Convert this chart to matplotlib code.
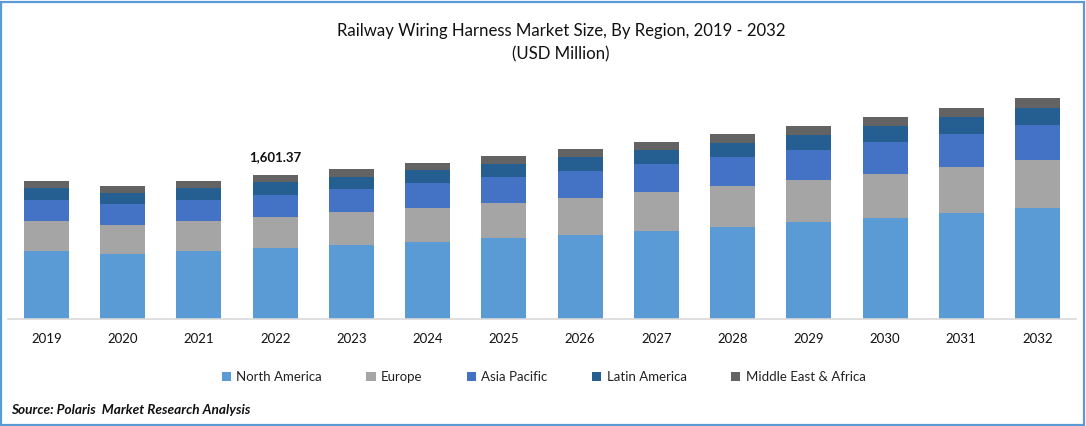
import matplotlib
matplotlib.use('Agg')
import matplotlib.pyplot as plt
import numpy as np
from matplotlib.patches import Rectangle

years = ['2019', '2020', '2021', '2022', '2023', '2024', '2025',
         '2026', '2027', '2028', '2029', '2030', '2031', '2032']

# USD million (2022 total is the labelled 1,601.37)
north_america = [756, 727, 756, 788, 823, 856, 901, 934, 979, 1023, 1079, 1123, 1179, 1234]
europe = [334, 319, 334, 345, 367, 378, 389, 411, 434, 456, 467, 489, 512, 534]
asia_pacific = [234, 234, 234, 245, 256, 278, 289, 300, 311, 323, 334, 356, 367, 389]
latin_america = [137, 122, 137, 145, 133, 145, 145, 156, 156, 156, 167, 178, 189, 189]
mea = [74, 78, 74, 78, 89, 78, 89, 89, 89, 100, 100, 100, 100, 111]

series = [
    ('North America', north_america, '#5B9BD5'),
    ('Europe', europe, '#A5A5A5'),
    ('Asia Pacific', asia_pacific, '#4472C4'),
    ('Latin America', latin_america, '#255E91'),
    ('Middle East & Africa', mea, '#636363'),
]

W, H = 1086, 426
plt.rcParams['font.family'] = ['Lato', 'DejaVu Sans']
fig = plt.figure(figsize=(W / 100, H / 100), dpi=100)

# axes placed in pixels: baseline at y=319, x from 8 to 1076
ax = fig.add_axes([8 / W, (H - 319) / H, 1068 / W, 229 / H])

x = np.arange(len(years))
bottom = np.zeros(len(years))
for name, values, color in series:
    ax.bar(x, values, width=0.59, bottom=bottom, color=color, label=name)
    bottom += np.array(values)

ax.set_xlim(-0.505, 13.505)
ax.set_ylim(0, 2546)
ax.set_xticks(x)
ax.set_xticklabels(years, fontsize=9.5, color='#111111')
ax.tick_params(axis='x', length=0, pad=10.3)
ax.set_yticks([])
for side in ['top', 'left', 'right']:
    ax.spines[side].set_visible(False)
ax.spines['bottom'].set_color('#D9D9D9')
ax.spines['bottom'].set_linewidth(1.2)

# only 2022 carries a total label
ax.text(3, bottom[3] + 130, '1,601.37', ha='center', va='bottom',
        fontsize=9.5, fontweight='bold', color='#111111')

fig.text(561 / W, 1 - 31 / H, 'Railway Wiring Harness Market Size, By Region, 2019 - 2032',
         ha='center', va='center', fontsize=12.1, color='#111111')
fig.text(561 / W, 1 - 54 / H, '(USD Million)',
         ha='center', va='center', fontsize=12.1, color='#111111')

ax.legend(loc='center', bbox_to_anchor=(543.5 / W, 1 - 377 / H),
          bbox_transform=fig.transFigure, ncols=5, frameon=False,
          fontsize=9.5, handlelength=0.7, handleheight=0.7, handletextpad=0.4,
          columnspacing=3.37, labelcolor='#222222', borderpad=0)

fig.text(11 / W, 1 - 410 / H, 'Source: Polaris  Market Research Analysis',
         ha='left', va='center', fontsize=9.8, fontweight='bold', style='italic', color='#111111')

# blue frame around the whole picture
fig.add_artist(Rectangle((1 / W, 1 / H), (W - 3) / W, (H - 3) / H, transform=fig.transFigure,
                         fill=False, edgecolor='#5B9BD5', linewidth=1.6))

fig.savefig('out.png', dpi=100)
